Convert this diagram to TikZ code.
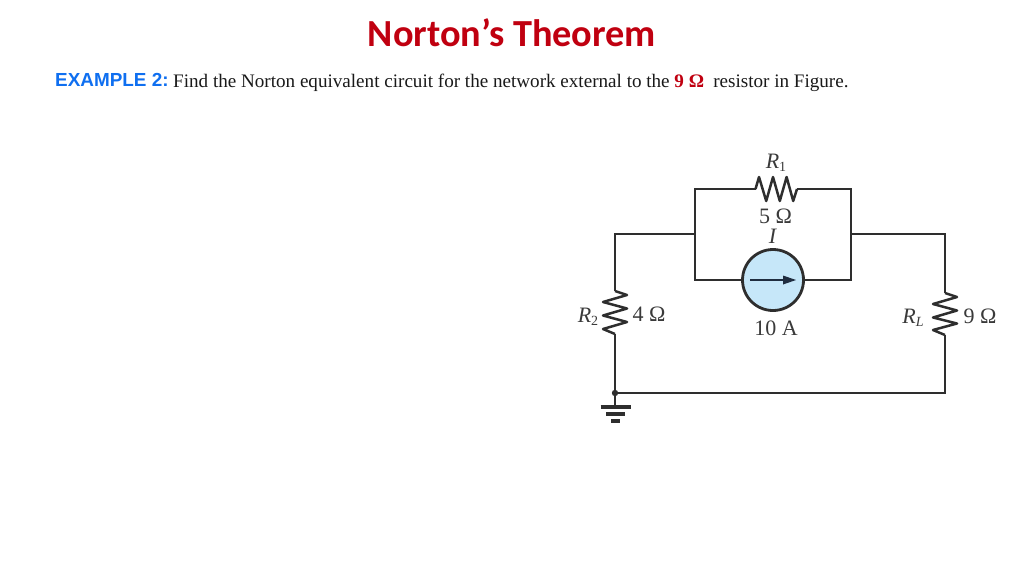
\documentclass[tikz,border=0pt]{standalone}
\usepackage{fontspec}
\setmainfont{Liberation Serif}
\newfontfamily\titlefont{Carlito}
\newfontfamily\headfont{Liberation Sans}
\definecolor{titlered}{HTML}{C00010}
\definecolor{headblue}{HTML}{0F6FF0}
\definecolor{wirecol}{HTML}{2E2E2E}
\definecolor{srcfill}{HTML}{C6E7F9}
\definecolor{arrowcol}{HTML}{1F2D40}
\definecolor{labcol}{HTML}{3A3A3A}
\tikzset{
  wire/.style={draw=wirecol,line width=1.9pt,line join=miter},
  res/.style={draw=wirecol,line width=2.5pt,line join=round},
  lab/.style={text=labcol,font=\fontsize{22}{24}\selectfont,inner sep=0pt},
  gbar/.style={draw=wirecol,line width=3.4pt},
}
\begin{document}
\begin{tikzpicture}[x=1pt,y=-1pt]
\useasboundingbox (0,0) rectangle (1024,576);
% header text
\node[anchor=center,inner sep=0pt,text=titlered,font=\titlefont\bfseries\fontsize{38.3}{42}\selectfont] (title) at (512,32.5) {Norton’s Theorem};
\node[anchor=base west,inner sep=0pt,text=headblue,font=\headfont\bfseries\fontsize{18.9}{22}\selectfont] (ex) at (55,86) {EXAMPLE 2:};
\node[anchor=base west,inner sep=0pt,text=black!90,font=\fontsize{19.1}{22}\selectfont] (body) at (173,87) {Find the Norton equivalent circuit for the network external to the \textcolor{titlered}{\textbf{9 Ω}}\hspace{4.5pt} resistor in Figure.};
% circuit points
\coordinate (tl) at (615,234);
\coordinate (jl) at (695,234);
\coordinate (pl) at (695,189);
\coordinate (ql) at (695,280);
\coordinate (jr) at (851,234);
\coordinate (pr) at (851,189);
\coordinate (qr) at (851,280);
\coordinate (tr) at (945,234);
\coordinate (r1a) at (755.5,189);
\coordinate (r1b) at (797,189);
\coordinate (r2a) at (615,291);
\coordinate (r2b) at (615,334);
\coordinate (rla) at (945,293);
\coordinate (rlb) at (945,335);
\coordinate (bl) at (615,393);
\coordinate (br) at (945,393);
\coordinate (g1) at (615,407);
% current source
\node[circle,draw=wirecol,line width=2.8pt,fill=srcfill,minimum size=61pt,inner sep=0pt] (src) at (773,280) {};
\coordinate (aw) at (750,280);
\coordinate (ae) at (796,280);
\draw[draw=arrowcol,line width=1.8pt] (aw) -- (788,280);
\fill[arrowcol] (ae) -- (783,275.5) -- (783,284.5) -- cycle;
% wires
\draw[wire] (r2a) -- (tl) -- (jl);
\draw[wire] (r1a) -- (pl) -- (ql) -- (src.west);
\draw[wire] (r1b) -- (pr) -- (qr) -- (src.east);
\draw[wire] (jr) -- (tr) -- (rla);
\draw[wire] (rlb) -- (br) -- (bl) -- (g1);
\draw[wire] (r2b) -- (bl);
\fill[wirecol] (bl) circle (3.2pt);
% resistors
\draw[res] (r1a) -- ++(3.5,-12) -- ++(7.2,24) -- ++(6.8,-24) -- ++(6.8,24) -- ++(6.8,-24) -- ++(6.6,24) -- (r1b);
\draw[res] (r2a) -- ++(12,4) -- ++(-24,7) -- ++(24,6.5) -- ++(-24,7) -- ++(24,6.5) -- ++(-24,7) -- (r2b);
\draw[res] (rla) -- ++(12,4) -- ++(-24,7) -- ++(24,6.5) -- ++(-24,7) -- ++(24,6) -- ++(-24,6.5) -- (rlb);
% ground
\draw[gbar] (600.5,407) -- (630.5,407);
\draw[gbar] (606,414) -- (625,414);
\draw[gbar] (611,421) -- (620,421);
% labels
\node[lab] (lr1) at (776,163) {\textit{R}\raisebox{-3pt}{\fontsize{14}{15}\selectfont 1}};
\node[lab] (l5) at (775.5,216) {5 Ω};
\node[lab] (li) at (773,236) {\textit{I}};
\node[lab] (l10) at (776,328) {10 A};
\node[lab] (lr2) at (588,317) {\textit{R}\raisebox{-3pt}{\fontsize{14}{15}\selectfont 2}};
\node[lab] (l4) at (649,314) {4 Ω};
\node[lab] (lrl) at (913,318) {\textit{R}\raisebox{-3pt}{\fontsize{14}{15}\selectfont \textit{L}}};
\node[lab] (l9) at (980,316) {9 Ω};
\end{tikzpicture}
\end{document}
